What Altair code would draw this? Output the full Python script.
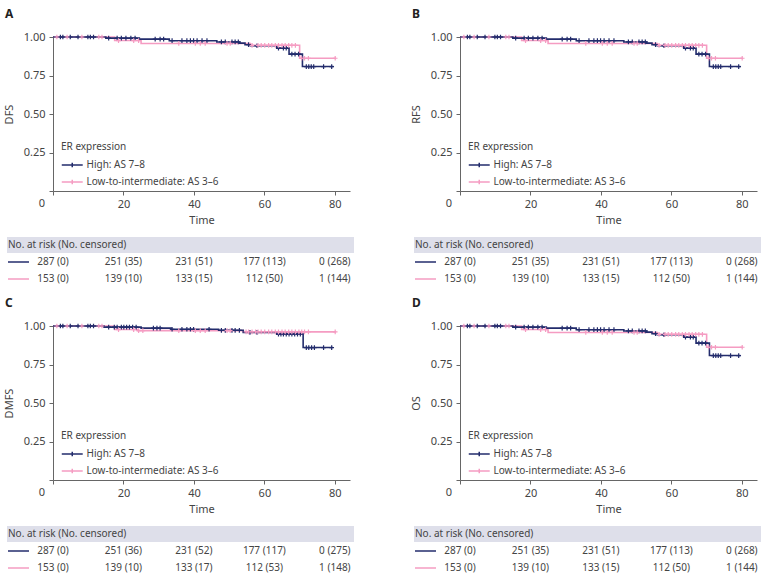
import altair as alt
import pandas as pd

# ---- groups and colours ----
GROUPS = ["High: AS 7\u20138", "Low-to-intermediate: AS 3\u20136"]
NAVY = "#232c6c"
PINK = "#f59cc2"
BAND = "#dedfea"
TEXT = "#444444"
FONT = "Noto Sans"

# ---- Kaplan-Meier step curves (time in months, survival probability) ----
dfs_high_t = [0, 15, 24.5, 33, 46.5, 53, 54.5, 56, 63.5, 67, 70.8, 79.6]
dfs_high_s = [1.0, 0.993, 0.986, 0.976, 0.968, 0.960, 0.950, 0.943, 0.928, 0.889, 0.808, 0.808]
dfs_low_t = [0, 17.5, 25, 56, 70, 80.3]
dfs_low_s = [1.0, 0.977, 0.958, 0.946, 0.862, 0.862]

dmfs_high_t = [0, 14.5, 25, 33.5, 47, 54, 63.5, 71, 79.4]
dmfs_high_s = [1.0, 0.993, 0.986, 0.979, 0.972, 0.958, 0.947, 0.860, 0.860]
dmfs_low_t = [0, 17.5, 24, 54, 80.3]
dmfs_low_s = [1.0, 0.977, 0.970, 0.962, 0.962]

# ---- censoring times ----
dfs_high_cens = [2.1, 2.8, 4.9, 7.1, 9.9, 10.6, 11.5, 15.8, 18.2, 19.4, 20.7, 22.1, 23.3,
                 29.0, 30.4, 31.4, 33.8, 36.6, 38.0, 39.0, 39.9, 40.9, 42.3, 43.7, 47.8,
                 48.9, 50.8, 51.7, 52.6, 55.5, 57.9, 64.0, 65.4, 66.2, 67.8, 68.7, 69.7,
                 71.9, 72.6, 73.3, 74.0, 76.8, 79.1]
dfs_low_cens = [1.1, 4.0, 8.2, 13.0, 13.9, 18.6, 22.9, 24.3, 35.7, 40.4, 41.8, 43.2, 49.4,
                50.3, 56.5, 58.2, 59.1, 60.1, 61.2, 62.1, 63.1, 64.0, 65.0, 65.9, 66.9,
                67.8, 68.8, 70.6, 71.4, 72.5, 80.1]
dmfs_high_cens = [2.1, 2.8, 4.9, 7.1, 9.9, 10.6, 11.5, 15.8, 17.4, 18.2, 19.4, 20.1, 20.9,
                  21.7, 22.6, 23.6, 28.5, 29.5, 30.4, 33.8, 36.6, 38.0, 39.0, 39.9, 44.3,
                  47.8, 48.9, 50.8, 51.7, 52.9, 55.9, 57.9, 64.0, 64.7, 65.4, 66.2, 67.0,
                  67.8, 68.6, 69.4, 70.2, 71.9, 72.6, 73.4, 74.2, 76.8, 79.1]
dmfs_low_cens = [1.1, 4.0, 8.2, 13.0, 13.9, 18.6, 22.9, 24.3, 25.5, 35.7, 40.4, 41.8, 43.2,
                 49.4, 50.3, 54.8, 55.5, 56.5, 57.5, 58.2, 59.1, 60.1, 61.2, 62.1, 63.1,
                 64.0, 65.0, 65.9, 66.9, 67.8, 68.8, 69.8, 70.6, 71.4, 72.5, 80.1]

# ---- numbers at risk / censored at the tick times ----
risk_times = [0, 20, 40, 60, 80]
dfs_risk_high = [287, 251, 231, 177, 0]
dfs_cens_high = [0, 35, 51, 113, 268]
dfs_risk_low = [153, 139, 133, 112, 1]
dfs_cens_low = [0, 10, 15, 50, 144]
dmfs_risk_high = [287, 251, 231, 177, 0]
dmfs_cens_high = [0, 36, 52, 117, 275]
dmfs_risk_low = [153, 139, 133, 112, 1]
dmfs_cens_low = [0, 10, 17, 53, 148]

PLOT_W = 297
PLOT_H = 154
PANEL_H = 250


def step_frame(times, surv, group):
    return pd.DataFrame({"t": times, "s": surv, "group": group})


def censor_frame(times, step_t, step_s, group):
    vals = []
    for c in times:
        s = step_s[0]
        for tt, ss in zip(step_t, step_s):
            if tt <= c:
                s = ss
        vals.append(s)
    return pd.DataFrame({"t": times, "s": vals, "group": group})


def risk_frame(nh, ch, nl, cl):
    rows = []
    for t, n, c in zip(risk_times, nh, ch):
        rows.append({"t": t, "row": 1, "group": GROUPS[0], "label": f"{n} ({c})"})
    for t, n, c in zip(risk_times, nl, cl):
        rows.append({"t": t, "row": 2, "group": GROUPS[1], "label": f"{n} ({c})"})
    return pd.DataFrame(rows)


x_enc = alt.X(
    "t:Q",
    scale=alt.Scale(domain=[0, 84.3], nice=False, zero=False),
    axis=alt.Axis(
        values=[0, 20, 40, 60, 80], title="Time", offset=PLOT_H - PANEL_H,
        tickSize=4, labelPadding=3, titlePadding=5, grid=False,
        labelExpr="datum.value === 0 ? '' : datum.label",
    ),
)

# legend key: a short line with a censoring tick, drawn to the right of its anchor
color_enc = alt.Color(
    "group:N",
    scale=alt.Scale(domain=GROUPS, range=[NAVY, PINK]),
    legend=alt.Legend(
        orient="none", legendX=8, legendY=105, padding=0, title="ER expression",
        titleFontSize=10, titleFontWeight="normal", titleColor=TEXT, titleFont=FONT,
        titlePadding=7, labelFontSize=10, labelColor=TEXT, labelFont=FONT,
        symbolType="M-1,0H3M1,-0.42V0.42", symbolSize=110, symbolStrokeWidth=1.5,
        symbolFillColor="transparent", labelOffset=13.5, rowPadding=5,
    ),
)


def panel(letter, ytitle, high_t, high_s, low_t, low_s, high_c, low_c, nh, ch, nl, cl):
    y_enc = alt.Y(
        "s:Q",
        scale=alt.Scale(domain=[0, 1], range=[PLOT_H, 0], nice=False, zero=False),
        axis=alt.Axis(
            values=[0, 0.25, 0.5, 0.75, 1.0], title=ytitle, tickSize=4, labelPadding=4,
            titlePadding=9, grid=False,
            labelExpr="datum.value === 0 ? '' : format(datum.value, '.2f')",
        ),
    )
    line_low = alt.Chart(step_frame(low_t, low_s, GROUPS[1])).mark_line(
        interpolate="step-after", strokeWidth=1.6
    ).encode(x=x_enc, y=y_enc, color=color_enc)
    line_high = alt.Chart(step_frame(high_t, high_s, GROUPS[0])).mark_line(
        interpolate="step-after", strokeWidth=1.6
    ).encode(x=x_enc, y=y_enc, color=color_enc)
    cens_high = alt.Chart(censor_frame(high_c, high_t, high_s, GROUPS[0])).mark_point(
        shape="M0,-1V1M-1,0H1", size=22, filled=False, strokeWidth=1.2, opacity=1
    ).encode(x=x_enc, y=y_enc, color=color_enc)
    cens_low = alt.Chart(censor_frame(low_c, low_t, low_s, GROUPS[1])).mark_point(
        shape="M0,-1V1M-1,0H1", size=22, filled=False, strokeWidth=1.2, opacity=1
    ).encode(x=x_enc, y=y_enc, color=color_enc)
    # origin label, set off to the left of the corner
    origin = alt.Chart(pd.DataFrame({"t": [0], "s": [0], "label": ["0"]})).mark_text(
        align="center", baseline="middle", dx=-11, dy=12.8, fontSize=11, font=FONT, color=TEXT
    ).encode(x=x_enc, y=y_enc, text="label:N")
    km = alt.layer(line_low, line_high, cens_high, cens_low, origin)

    # number-at-risk table below the plot
    risk = risk_frame(nh, ch, nl, cl)
    row_y = alt.Y("row:Q", scale=alt.Scale(domain=[0, 2], range=[208, 242], nice=False, zero=False),
                  axis=None)
    header_df = pd.DataFrame({"row": [0], "label": ["No. at risk (No. censored)"]})
    band = alt.Chart(header_df).mark_rect(color=BAND).encode(
        x=alt.value(-46), x2=alt.value(PLOT_W + 4), y=alt.value(200), y2=alt.value(216)
    )
    header = alt.Chart(header_df).mark_text(
        align="left", baseline="middle", fontSize=10, font=FONT, color=TEXT
    ).encode(x=alt.value(-45), y=row_y, text="label:N")
    keys = alt.Chart(risk[risk["t"] == 0]).mark_rule(strokeWidth=1.5).encode(
        x=alt.value(-45), x2=alt.value(-24), y=row_y, color=color_enc
    )
    nums = alt.Chart(risk).mark_text(
        align="center", baseline="middle", fontSize=10, font=FONT, color=TEXT
    ).encode(x=x_enc, y=row_y, text="label:N")
    table = alt.layer(band, header, keys, nums)

    return alt.layer(km, table).resolve_scale(y="independent").properties(
        width=PLOT_W, height=PANEL_H,
        title=alt.TitleParams(letter, anchor="start", frame="group", dx=-48, offset=10,
                              fontSize=12, fontWeight="bold", color="#222", font=FONT),
    )


pA = panel("A", "DFS", dfs_high_t, dfs_high_s, dfs_low_t, dfs_low_s, dfs_high_cens, dfs_low_cens,
           dfs_risk_high, dfs_cens_high, dfs_risk_low, dfs_cens_low)
pB = panel("B", "RFS", dfs_high_t, dfs_high_s, dfs_low_t, dfs_low_s, dfs_high_cens, dfs_low_cens,
           dfs_risk_high, dfs_cens_high, dfs_risk_low, dfs_cens_low)
pC = panel("C", "DMFS", dmfs_high_t, dmfs_high_s, dmfs_low_t, dmfs_low_s, dmfs_high_cens,
           dmfs_low_cens, dmfs_risk_high, dmfs_cens_high, dmfs_risk_low, dmfs_cens_low)
pD = panel("D", "OS", dfs_high_t, dfs_high_s, dfs_low_t, dfs_low_s, dfs_high_cens, dfs_low_cens,
           dfs_risk_high, dfs_cens_high, dfs_risk_low, dfs_cens_low)

chart = alt.concat(
    pA, pB, pC, pD, columns=2, spacing={"row": 39, "column": 110}, bounds="flush"
).resolve_scale(
    color="independent", x="independent", y="independent"
).resolve_legend(color="independent").configure_view(stroke=None).configure_axis(
    labelFont=FONT, labelFontSize=11, labelColor=TEXT, titleFont=FONT, titleFontSize=11,
    titleFontWeight="normal", titleColor=TEXT, domainColor="#666", tickColor="#666",
).properties(padding={"left": 3, "top": 8, "right": 0, "bottom": 0}, background="white")

chart.save("out.html", embed_options={"renderer": "svg", "actions": False})
